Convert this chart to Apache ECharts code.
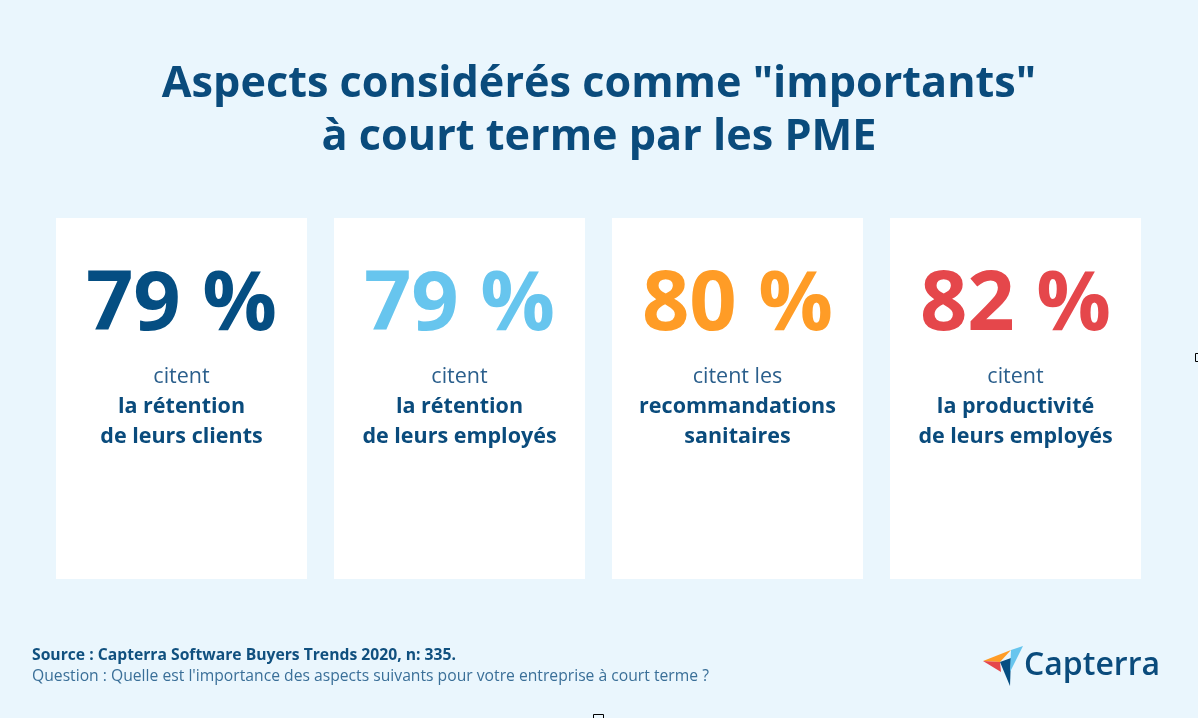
<!DOCTYPE html>
<html>
<head>
<meta charset="utf-8">
<script src="https://cdn.jsdelivr.net/npm/echarts@6/dist/echarts.min.js"></script>
<style>
html,body{margin:0;padding:0;background:#eaf6fd;}
#chart{width:1198px;height:718px;}
</style>
</head>
<body>
<div id="chart"></div>
<script>
const categories = ['clients', 'employes', 'sanitaires', 'productivite'];
const values = [79, 79, 80, 82];
const leadWords = ['citent', 'citent', 'citent les', 'citent'];
const highlights = [
  'la rétention\nde leurs clients',
  'la rétention\nde leurs employés',
  'recommandations\nsanitaires',
  'la productivité\nde leurs employés'
];
const titleText = 'Aspects considérés comme "importants"\nà court terme par les PME';
const sourceText = 'Source : Capterra Software Buyers Trends 2020, n: 335.';
const questionText = "Question : Quelle est l'importance des aspects suivants pour votre entreprise à court terme ?";

const palette = ['#054e82', '#67c5ee', '#ff9c26', '#e5474b'];
const navy = '#0a4b7c';
const FONT = '"Open Sans", "Noto Sans", sans-serif';

const chart = echarts.init(document.getElementById('chart'), null, {renderer: 'canvas'});

chart.setOption({
  backgroundColor: '#eaf6fd',
  animation: false,
  grid: {left: 42.5, right: 43.5, top: 218, bottom: 139},
  xAxis: {type: 'category', data: categories, show: false},
  yAxis: {type: 'value', min: 0, max: 100, show: false},
  series: [{
    type: 'custom',
    data: values.map((v, i) => [i, v]),
    renderItem: function (params, api) {
      const i = api.value(0);
      const top = api.coord([i, 100]);
      const bot = api.coord([i, 0]);
      const band = api.size([1, 0])[0];
      const w = band - 27;
      const cx = top[0];
      const y0 = top[1];
      return {
        type: 'group',
        children: [
          {type: 'rect', shape: {x: cx - w / 2, y: y0, width: w, height: bot[1] - y0},
           style: {fill: '#ffffff'}},
          {type: 'text', style: {text: api.value(1) + ' %', x: cx, y: y0 + 88,
            textAlign: 'center', textVerticalAlign: 'middle',
            font: 'bold 83px ' + FONT, fill: palette[i]}},
          {type: 'text', style: {text: leadWords[i], x: cx, y: y0 + 159,
            textAlign: 'center', textVerticalAlign: 'middle',
            font: '21.5px ' + FONT, fill: '#2b5f8c'}},
          {type: 'text', style: {text: highlights[i], x: cx, y: y0 + 204,
            textAlign: 'center', textVerticalAlign: 'middle', lineHeight: 30,
            font: 'bold 21.5px ' + FONT, fill: navy}}
        ]
      };
    }
  }],
  graphic: [
    {type: 'text', x: 599, y: 111, style: {text: titleText,
      textAlign: 'center', textVerticalAlign: 'middle', lineHeight: 53,
      font: 'bold 43.2px ' + FONT, fill: navy}},
    {type: 'text', left: 32, top: 648, style: {text: sourceText,
      font: 'bold 15.7px ' + FONT, fill: '#10507f'}},
    {type: 'text', left: 32, top: 669, style: {text: questionText,
      font: '15.7px ' + FONT, fill: '#3a6f98'}},
    {type: 'polygon', shape: {points: [[983, 661], [1011, 650], [1000, 662]]}, style: {fill: '#ff9c26'}},
    {type: 'polygon', shape: {points: [[983, 661], [1000, 662], [1001, 672]]}, style: {fill: '#e5474b'}},
    {type: 'polygon', shape: {points: [[1000, 662], [1011, 658], [1010, 686]]}, style: {fill: '#054e82'}},
    {type: 'polygon', shape: {points: [[1011, 650], [1023, 646], [1010, 672]]}, style: {fill: '#67c5ee'}},
    {type: 'text', left: 1024, top: 650, style: {text: 'Capterra',
      font: '600 32px ' + FONT, fill: navy}},
    {type: 'rect', shape: {x: 1195.5, y: 353.5, width: 6, height: 8}, style: {fill: 'none', stroke: '#000', lineWidth: 1}},
    {type: 'rect', shape: {x: 593.5, y: 714.5, width: 10, height: 8}, style: {fill: 'none', stroke: '#000', lineWidth: 1}}
  ]
});
</script>
</body>
</html>
